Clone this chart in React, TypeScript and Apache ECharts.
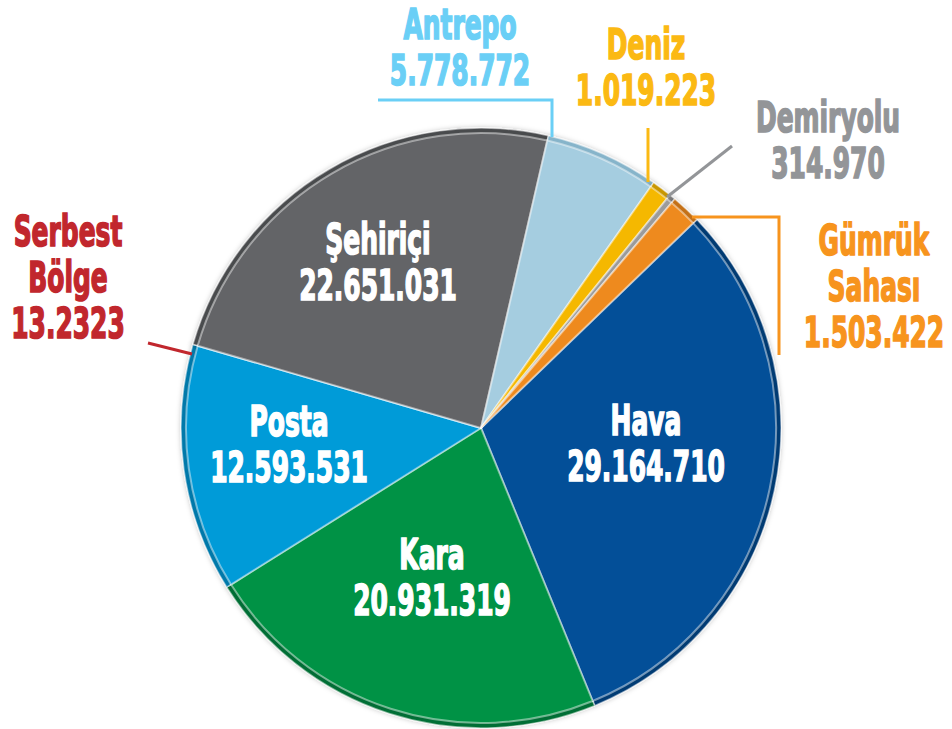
import React, { useEffect, useRef } from "react";
import * as echarts from "echarts";

const categories = ["Hava", "Kara", "Posta", "Serbest Bölge", "Şehiriçi", "Antrepo", "Deniz", "Demiryolu", "Gümrük Sahası"];
const values = [29164710, 20931319, 12593531, 13.2323, 22651031, 5778772, 1019223, 314970, 1503422];
const labelNames = ["Hava", "Kara", "Posta", "Serbest\nBölge", "Şehiriçi", "Antrepo", "Deniz", "Demiryolu", "Gümrük\nSahası"];
const valueLabels = ["29.164.710", "20.931.319", "12.593.531", "13.2323", "22.651.031", "5.778.772", "1.019.223", "314.970", "1.503.422"];

const sliceColors = ["#034f98", "#009245", "#009bd8", "#4fb8e6", "#636467", "#a5cde0", "#f5b800", "#9b9b9b", "#ee8a1e"];
const edgeColors = ["#023a73", "#006e34", "#0079aa", "#2f9ccb", "#4a4b4e", "#86b4ca", "#c99700", "#7d7d7d", "#c46f12"];
const textColors = ["#ffffff", "#ffffff", "#ffffff", "#c1272d", "#ffffff", "#6acff6", "#fbb913", "#939598", "#f7941d"];
const labelPos: [number, number][] = [
  [646, 443], [432, 577], [289, 444], [68, 277], [378, 262], [460, 47], [646, 67], [828, 140], [874, 286],
];
const leaderLines: ([number, number][] | null)[] = [
  null, null, null,
  [[192, 354], [148, 343]],
  null,
  [[552, 137], [552, 100], [378, 100]],
  [[648, 182], [648, 128]],
  [[667, 197], [732, 146]],
  [[692, 217], [779, 217], [779, 355]],
];

const FONT = "'DejaVu Sans Condensed', 'DejaVu Sans', sans-serif";

export default function App() {
  const ref = useRef<HTMLDivElement>(null);
  useEffect(() => {
    if (!ref.current) return;
    const chart = echarts.init(ref.current, undefined, { renderer: "svg" });
    const data = categories.map((name, i) => ({
      name,
      value: values[i],
      itemStyle: { color: sliceColors[i] },
    }));
    const rimData = categories.map((name, i) => ({
      name,
      value: values[i],
      itemStyle: { color: edgeColors[i] },
    }));
    const texts = categories.map((_, i) => ({
      type: "text",
      x: labelPos[i][0],
      y: labelPos[i][1],
      scaleX: 0.66,
      z: 100,
      style: {
        text: labelNames[i] + "\n" + valueLabels[i],
        fill: textColors[i],
        stroke: textColors[i],
        lineWidth: 1.6,
        fontFamily: FONT,
        fontWeight: "bold",
        fontSize: 42,
        lineHeight: 46,
        align: "center",
        verticalAlign: "middle",
        textAlign: "center",
        textVerticalAlign: "middle",
      },
    }));
    const lines = leaderLines
      .map((pts, i) =>
        pts
          ? {
              type: "polyline",
              z: 90,
              shape: { points: pts },
              style: { stroke: textColors[i], lineWidth: 3, fill: "none" },
            }
          : null
      )
      .filter(Boolean);
    chart.setOption({
      animation: false,
      backgroundColor: "#ffffff",
      series: [
        {
          type: "pie",
          center: [481, 428],
          radius: 300,
          startAngle: 44,
          clockwise: true,
          avoidLabelOverlap: false,
          silent: true,
          z: 1,
          data: rimData,
          itemStyle: {
            borderColor: "rgba(255,255,255,0.5)",
            borderWidth: 1.5,
            shadowBlur: 5,
            shadowColor: "rgba(0,0,0,0.25)",
          },
          label: { show: false },
          labelLine: { show: false },
        },
        {
          type: "pie",
          center: [481, 428],
          radius: 295,
          startAngle: 44,
          clockwise: true,
          avoidLabelOverlap: false,
          z: 2,
          data,
          itemStyle: {
            borderColor: "rgba(255,255,255,0.45)",
            borderWidth: 2,
          },
          label: { show: false },
          labelLine: { show: false },
        },
      ],
      graphic: [...lines, ...texts],
    });
    return () => chart.dispose();
  }, []);
  return (
    <div
      ref={ref}
      style={{ position: "fixed", left: 0, top: 0, width: 952, height: 729 }}
    />
  );
}
